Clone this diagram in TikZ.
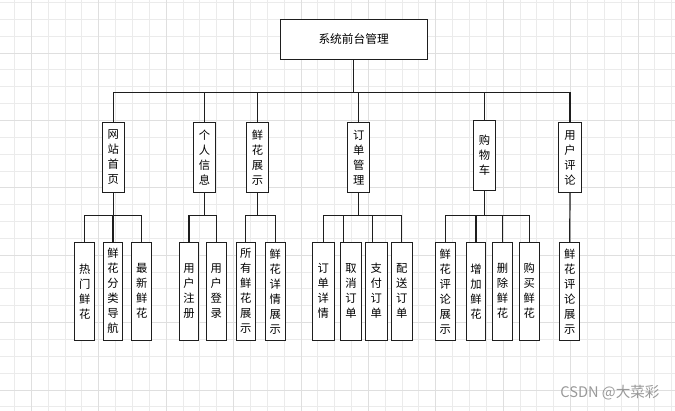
\documentclass[tikz,border=0pt]{standalone}
\usepackage{fontspec}
\newfontfamily\cjk{Noto Sans CJK SC}
\definecolor{gminor}{HTML}{EBEBEB}
\definecolor{gmajor}{HTML}{DFDFDF}
\definecolor{ln}{HTML}{1E1E1E}
\definecolor{wmc}{HTML}{999999}
\begin{document}
\begin{tikzpicture}[x=1pt,y=-1pt,
  box/.style={draw=ln, line width=0.9pt, fill=white, inner sep=0pt, align=center,
              font=\cjk\fontsize{11.3}{15}\selectfont},
  mid/.style={box, minimum width=22.3pt, minimum height=70.4pt},
  leaf/.style={box, minimum width=19.6pt, minimum height=97.7pt},
  wleaf/.style={box, minimum width=21.5pt, minimum height=97.7pt},
  conn/.style={draw=ln, line width=1.2pt}]
\useasboundingbox (0,0) rectangle (675,411);
\fill[white] (0,0) rectangle (675,411);
% grid
\foreach \i in {0,...,39} \draw[gminor, line width=0.7pt] ({14.4+\i*16.85},0) -- ({14.4+\i*16.85},411);
\foreach \j in {0,...,24} \draw[gminor, line width=0.7pt] (0,{2.4+\j*16.85}) -- (675,{2.4+\j*16.85});
\foreach \i in {1,5,...,37} \draw[gmajor, line width=0.7pt] ({14.4+\i*16.85},0) -- ({14.4+\i*16.85},411);
\foreach \j in {3,7,...,23} \draw[gmajor, line width=0.7pt] (0,{2.4+\j*16.85}) -- (675,{2.4+\j*16.85});

% top
\node[box, minimum width=147pt, minimum height=39.7pt, font=\cjk\fontsize{11.7}{14}\selectfont] (top) at (353.6,39.2) {系统前台管理};

% middle
\node[mid] (m1) at (113.3,157.5) {网\\站\\首\\页};
\node[mid] (m2) at (204.5,157.5) {个\\人\\信\\息};
\node[mid] (m3) at (257.5,157.5) {鲜\\花\\展\\示};
\node[mid] (m4) at (358.7,157.5) {订\\单\\管\\理};
\node[mid] (m5) at (484.5,155.7) {购\\物\\车};
\node[mid] (m6) at (570,157.5) {用\\户\\评\\论};

% leaves
\node[leaf] (a1) at (84.7,291.2) {热\\门\\鲜\\花};
\node[leaf] (a2) at (113,291.2) {鲜\\花\\分\\类\\导\\航};
\node[leaf] (a3) at (141.7,291.2) {最\\新\\鲜\\花};
\node[leaf] (b1) at (189,291.2) {用\\户\\注\\册};
\node[leaf] (b2) at (216.3,291.2) {用\\户\\登\\录};
\node[leaf] (c1) at (245.8,291.2) {所\\有\\鲜\\花\\展\\示};
\node[leaf, minimum width=20.7pt] (c2) at (275.3,291.2) {鲜\\花\\详\\情\\展\\示};
\node[wleaf] (d1) at (323.3,291.2) {订\\单\\详\\情};
\node[wleaf] (d2) at (351,291.2) {取\\消\\订\\单};
\node[wleaf] (d3) at (376.3,291.2) {支\\付\\订\\单};
\node[wleaf] (d4) at (401.7,291.2) {配\\送\\订\\单};
\node[leaf] (e1) at (445.2,291.2) {鲜\\花\\评\\论\\展\\示};
\node[leaf] (e2) at (476,291.2) {增\\加\\鲜\\花};
\node[leaf] (e3) at (502.5,291.2) {删\\除\\鲜\\花};
\node[leaf] (e4) at (529.2,291.2) {购\\买\\鲜\\花};
\node[leaf] (f1) at (569.7,291.5) {鲜\\花\\评\\论\\展\\示};

% connectors: top level
\coordinate (bus) at (354,92.5);
\coordinate (br) at (0,215.3);
\draw[conn] (top.south) -- (top.south |- bus);
\draw[conn] (m1.north) -- (m1.north |- bus) -- (m6.north |- bus) -- (m6.north);
\foreach \n in {m2,m3,m4,m5} \draw[conn] (\n.north) -- (\n.north |- bus);

% groups
\foreach \n in {m1,m2,m3,m4,m5} \draw[conn] (\n.south) -- (\n.south |- br);
\draw[conn] (a1.north) -- (a1.north |- br) -- (a3.north |- br) -- (a3.north);
\draw[conn] (a2.north) -- (a2.north |- br);
\draw[conn] (b1.north) -- (b1.north |- br) -- (b2.north |- br) -- (b2.north);
\draw[conn] (c1.north) -- (c1.north |- br) -- (c2.north |- br) -- (c2.north);
\draw[conn] (d1.north) -- (d1.north |- br) -- (d4.north |- br) -- (d4.north);
\draw[conn] ([xshift=-7.7pt]d2.north) -- ([xshift=-7.7pt]d2.north |- br);
\draw[conn] ([xshift=-4pt]d3.north) -- ([xshift=-4pt]d3.north |- br);
\draw[conn] (e1.north) -- (e1.north |- br) -- (e4.north |- br) -- (e4.north);
\draw[conn] (e2.north) -- (e2.north |- br);
\draw[conn] (e3.north) -- (e3.north |- br);
\draw[conn] (m6.south) -- (f1.north);

% watermark
\node[font=\cjk\fontsize{14.6}{15}\selectfont, text=wmc, inner sep=0pt] (wm) at (610,393) {CSDN @大菜彩};
\end{tikzpicture}
\end{document}
